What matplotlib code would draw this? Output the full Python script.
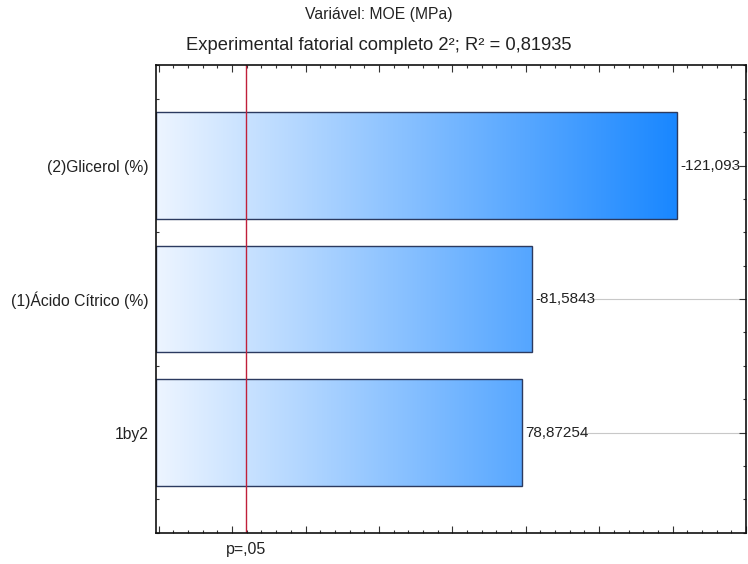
import numpy as np
import matplotlib
matplotlib.use("Agg")
import matplotlib.pyplot as plt
from matplotlib.colors import LinearSegmentedColormap
from matplotlib.ticker import MultipleLocator

plt.rcParams['font.family'] = ['Liberation Sans', 'DejaVu Sans']

# standardized effects (t values), top to bottom
factors = ['(2)Glicerol (%)', '(1)Ácido Cítrico (%)', '1by2']
effects = [-121.093, -81.5843, 78.87254]
p_crit = 3.8          # critical t at p = .05
x_range = (-20.6, 140.0)

fig = plt.figure(figsize=(7.48, 5.64), dpi=100)
ax = fig.add_axes([0.2092, 0.0555, 0.9973 - 0.2092, 0.8839 - 0.0555])

cmap = LinearSegmentedColormap.from_list(
    'bars', [(0.93, 0.96, 1.0), (0.10, 0.53, 1.0)])
grad = np.linspace(0, 1, 256).reshape(1, -1)
grad_end = abs(effects[0])

ypos = np.arange(len(factors))[::-1]
h = 0.8
for y, e in zip(ypos, effects):
    v = abs(e)
    bar = ax.barh(y, v - x_range[0], left=x_range[0], height=h,
                  facecolor='none', edgecolor='#2b3a60', lw=1.0, zorder=3)[0]
    im = ax.imshow(grad, cmap=cmap, aspect='auto', zorder=2,
                   extent=(x_range[0], grad_end, y - h / 2, y + h / 2))
    im.set_clip_path(bar)
    txt = ax.text(v + 1.0, y, str(e).replace('.', ','), va='center',
                  ha='left', fontsize=11, color='#222222', zorder=4)
    # thin guide from the value label to the right frame
    fig.canvas.draw()
    bb = txt.get_window_extent().transformed(ax.transData.inverted())
    ax.plot([bb.x1 + 0.3, x_range[1]], [y, y], color='#c8c8c8', lw=0.8,
            zorder=1)

ax.axvline(p_crit, color='#c0203a', lw=1.0, zorder=5)

ax.set_xlim(*x_range)
ax.set_ylim(-0.75, len(factors) - 0.25)
ax.set_yticks(ypos)
ax.set_yticklabels(factors, fontsize=11.3, color='#222222')
ax.yaxis.set_minor_locator(MultipleLocator(0.25))
ax.xaxis.set_major_locator(MultipleLocator(20))
ax.xaxis.set_minor_locator(MultipleLocator(4))
ax.set_xticklabels([])
ax.tick_params(which='both', direction='in', top=True, right=True,
               color='#333333', width=0.8, zorder=6)
ax.tick_params(which='major', length=5)
ax.tick_params(which='minor', length=2.5)
ax.tick_params(axis='y', which='major', pad=6)
for s in ax.spines.values():
    s.set_linewidth(1.2)
    s.set_color('#111111')
    s.set_zorder(6)

ax.text(p_crit, -0.035, 'p=,05', transform=ax.get_xaxis_transform(),
        ha='center', va='center', fontsize=11.5, color='#222222')

fig.text(379 / 748, 1 - 15 / 564, 'Variável: MOE (MPa)', ha='center',
         va='center', fontsize=11.3, color='#222222')
fig.text(379 / 748, 1 - 45 / 564,
         'Experimental fatorial completo 2²; R² = 0,81935',
         ha='center', va='center', fontsize=13.2, color='#222222')

fig.savefig('out.png', dpi=100)
